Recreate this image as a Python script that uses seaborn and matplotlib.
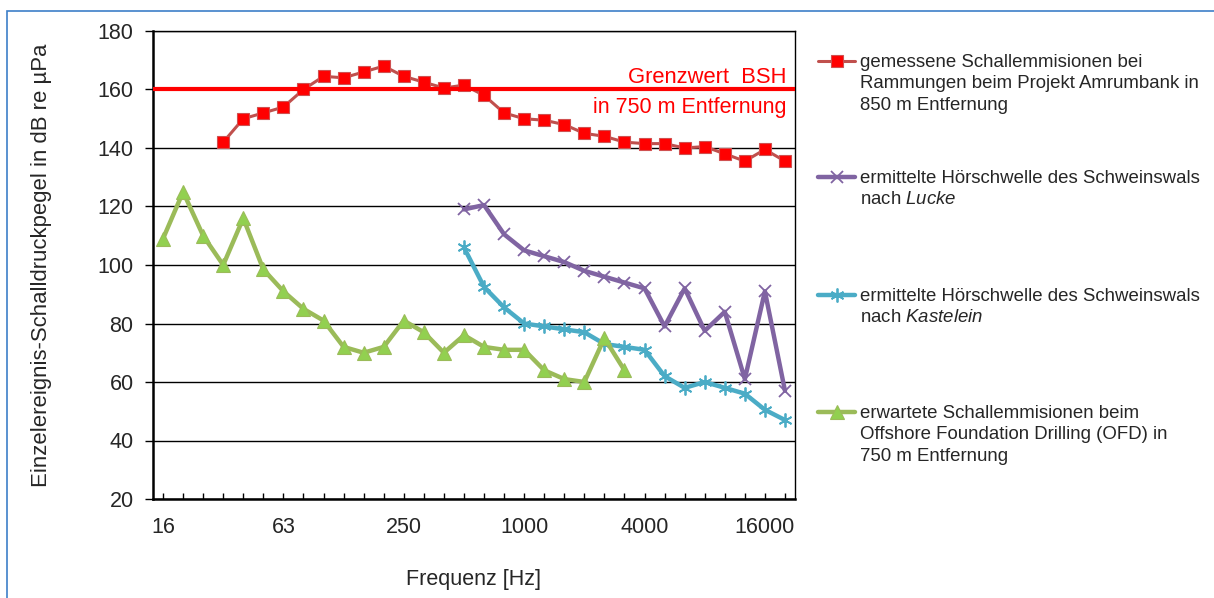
import numpy as np
import pandas as pd
import seaborn as sns
from matplotlib import pyplot as plt
from matplotlib.lines import Line2D
from matplotlib.patches import Rectangle

nan = np.nan

# third-octave band centre frequencies [Hz]
freqs = ['16', '20', '25', '31.5', '40', '50', '63', '80', '100', '125', '160',
         '200', '250', '315', '400', '500', '630', '800', '1000', '1250', '1600',
         '2000', '2500', '3150', '4000', '5000', '6300', '8000', '10000', '12500',
         '16000', '20000']
tick_every = 6

# measured pile driving noise, Amrumbank, 850 m
amrumbank = [nan, nan, nan, 142, 150, 152, 154, 160, 164.5, 164, 166, 168, 164.5,
             162.5, 160.5, 161.5, 158, 152, 150, 149.5, 148, 145, 144, 142, 141.5,
             141.5, 140, 140.5, 138, 135.5, 139.5, 135.5]
# hearing threshold harbour porpoise (Lucke)
lucke = [nan] * 15 + [119, 120.5, 110.5, 105, 103, 101, 98, 96, 94, 92, 79, 92,
                      77.5, 84, 61, 91, 57]
# hearing threshold harbour porpoise (Kastelein)
kastelein = [nan] * 15 + [106, 92.5, 85.5, 80, 79, 78, 77, 73, 72, 71, 62, 58,
                          60, 58, 56, 50.5, 47]
# expected noise offshore foundation drilling, 750 m
ofd = [109, 125, 110, 100, 116, 98.5, 91, 85, 81, 72, 70, 72, 81, 77, 70, 76, 72,
       71, 71, 64, 61, 60, 75, 64] + [nan] * 8

limit_bsh = 160

labels = [
    'gemessene Schallemmisionen bei\nRammungen beim Projekt Amrumbank in\n850 m Entfernung',
    'ermittelte Hörschwelle des Schweinswals\nnach $\\mathit{Lucke}$',
    'ermittelte Hörschwelle des Schweinswals\nnach $\\mathit{Kastelein}$',
    'erwartete Schallemmisionen beim\nOffshore Foundation Drilling (OFD) in\n750 m Entfernung',
]

sns.set_style('white')
plt.rcParams['font.family'] = ['Liberation Sans', 'DejaVu Sans']
plt.rcParams['mathtext.fontset'] = 'custom'
plt.rcParams['mathtext.it'] = 'Liberation Sans:italic'
plt.rcParams['mathtext.rm'] = 'Liberation Sans'

df = pd.DataFrame({'idx': np.arange(len(freqs)), 'freq': freqs,
                   'amrumbank': amrumbank, 'lucke': lucke,
                   'kastelein': kastelein, 'ofd': ofd})

styles = {
    'amrumbank': dict(color='#C0504D', lw=2.2, marker='s', ms=8,
                      mfc='#FF0000', mec='#D05050', mew=0.8),
    'lucke': dict(color='#8064A2', lw=3.2, marker='x', ms=9,
                  mec='#8064A2', mew=1.3),
    'kastelein': dict(color='#4BACC6', lw=3.2, marker=(6, 2, 0), ms=10,
                      mec='#4BACC6', mew=1.3),
    'ofd': dict(color='#9BBB59', lw=3.2, marker='^', ms=10,
                mfc='#92D050', mec='#9BBB59', mew=0.8),
}

fig = plt.figure(figsize=(12.14, 5.98), dpi=100)
ax = fig.add_axes([153 / 1214, 1 - 499 / 598, (795 - 153) / 1214, (499 - 31) / 598])

for col, st in styles.items():
    sub = df.dropna(subset=[col])
    sns.lineplot(data=sub, x='idx', y=col, ax=ax, estimator=None, sort=False,
                 zorder=3, **st)

# BSH limit
ax.axhline(limit_bsh, color='#FF0000', lw=3, zorder=4)
ax.text(31.1, limit_bsh + 0.6, 'Grenzwert  BSH', color='#FF0000', fontsize=15.8,
        ha='right', va='bottom')
ax.text(31.1, limit_bsh - 2.5, 'in 750 m Entfernung', color='#FF0000',
        fontsize=15.5, ha='right', va='top')

ax.set_xlim(-0.5, len(freqs) - 0.5)
ax.set_ylim(20, 180)
ax.set_yticks(np.arange(20, 181, 20))
ax.set_xticks(df['idx'])
ax.set_xticklabels([f if i % tick_every == 0 else '' for i, f in enumerate(freqs)])
ax.grid(axis='y', color='black', lw=1)
ax.set_axisbelow(True)
ax.tick_params(axis='y', direction='out', length=6, width=1, labelsize=15.5, pad=8,
               left=True, color='black')
ax.tick_params(axis='x', direction='in', length=4, width=1, labelsize=15.5, pad=13,
               bottom=True, color='black')
for side in ['left', 'bottom']:
    ax.spines[side].set_color('black')
    ax.spines[side].set_linewidth(1.8)
for side in ['top', 'right']:
    ax.spines[side].set_color('black')
    ax.spines[side].set_linewidth(1)

ax.set_xlabel('Frequenz [Hz]', fontsize=15.5, labelpad=22)
ax.set_ylabel('Einzelereignis-Schalldruckpegel in dB re µPa', fontsize=15.9,
              labelpad=33)

# legend, drawn entry by entry so the marker sits on the first text line
entry_y = [61, 177, 295, 412]
for col, lab, y in zip(styles, labels, entry_y):
    yf = 1 - y / 598
    st = dict(styles[col])
    h = Line2D([818 / 1214, 855 / 1214], [yf, yf], transform=fig.transFigure,
               markevery=[], **st)
    fig.add_artist(h)
    m = Line2D([836.5 / 1214], [yf], transform=fig.transFigure, ls='none',
               **{k: v for k, v in st.items() if k not in ('lw',)})
    fig.add_artist(m)
    fig.text(860 / 1214, 1 - (y - 7) / 598, lab, fontsize=13.4, va='top',
             ha='left', linespacing=1.33, transform=fig.transFigure)

# blue frame around the chart area
fig.add_artist(Rectangle((7 / 1214, -0.1), 1.2, 1 - 11 / 598 + 0.1,
                         transform=fig.transFigure, fill=False,
                         edgecolor='#3D7FC8', lw=1.2))

fig.savefig('out.png', dpi=100)
